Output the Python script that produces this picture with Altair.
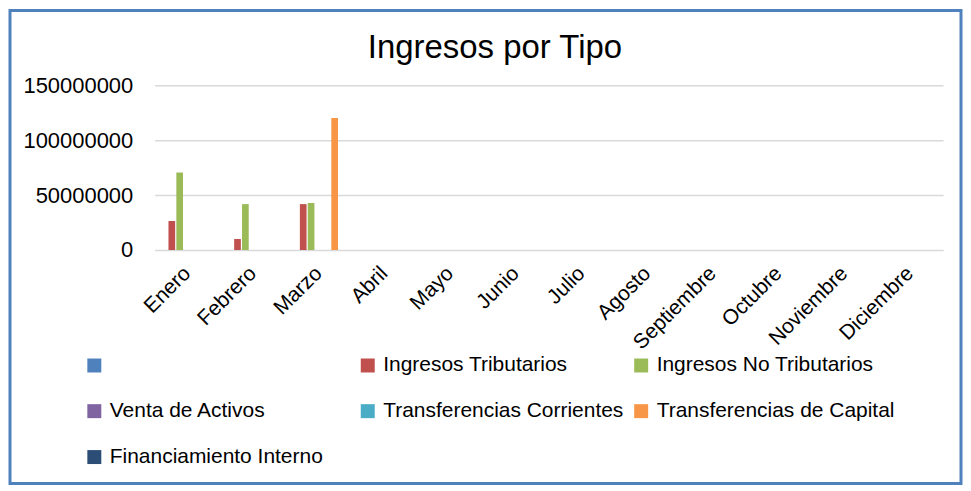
import altair as alt
import pandas as pd

months = ["Enero", "Febrero", "Marzo", "Abril", "Mayo", "Junio", "Julio",
          "Agosto", "Septiembre", "Octubre", "Noviembre", "Diciembre"]
series = [" ", "Ingresos Tributarios", "Ingresos No Tributarios", "Venta de Activos",
          "Transferencias Corrientes", "Transferencias de Capital", "Financiamiento Interno"]
colors = ["#4F81BD", "#C0504D", "#9BBB59", "#8064A2", "#4BACC6", "#F79646", "#2C4D75"]
title_text = "Ingresos por Tipo"

sin_nombre = [0] * 12
tributarios = [26400000, 10000000, 41800000, 0, 0, 0, 0, 0, 0, 0, 0, 0]
no_tributarios = [70600000, 41800000, 42700000, 0, 0, 0, 0, 0, 0, 0, 0, 0]
venta_activos = [0] * 12
transf_corrientes = [0] * 12
transf_capital = [0, 0, 120300000, 0, 0, 0, 0, 0, 0, 0, 0, 0]
financiamiento = [0] * 12

all_values = [sin_nombre, tributarios, no_tributarios, venta_activos,
              transf_corrientes, transf_capital, financiamiento]

rows = []
for s, vals in zip(series, all_values):
    for m, v in zip(months, vals):
        rows.append({"mes": m, "serie": s, "valor": v})
df = pd.DataFrame(rows)

FONT = "Liberation Sans"
W, H = 790, 165
PL, PT, PR, PB = 147, 77, 20, 236

bars = alt.Chart(df).mark_bar().encode(
    x=alt.X("mes:N", sort=months,
            scale=alt.Scale(domain=months, paddingInner=0.18, paddingOuter=0.09),
            axis=alt.Axis(title=None, labelAngle=-45, labelAlign="right", labelBaseline="middle",
                          labelFontSize=21, labelFont=FONT, labelColor="#000000",
                          ticks=False, domainColor="#D9D9D9", labelPadding=20)),
    xOffset=alt.XOffset("serie:N", scale=alt.Scale(domain=series, paddingInner=0.15)),
    y=alt.Y("valor:Q", scale=alt.Scale(domain=[0, 150000000]),
            axis=alt.Axis(title=None, values=[0, 50000000, 100000000, 150000000], format="d",
                          labelFontSize=22, labelFont=FONT, labelColor="#000000",
                          ticks=False, domain=False, gridColor="#D9D9D9", gridWidth=1.5,
                          labelPadding=22)),
    color=alt.Color("serie:N", scale=alt.Scale(domain=series, range=colors),
                    legend=alt.Legend(title=None, orient="none", legendX=-71, legendY=270,
                                      direction="horizontal",
                                      columns=3, gridAlign="all", columnPadding=7,
                                      rowPadding=24, labelFontSize=21, labelFont=FONT,
                                      labelColor="#000000", labelLimit=400, padding=0,
                                      symbolType="square", symbolSize=196,
                                      symbolStrokeWidth=0, symbolOffset=0, labelOffset=5)),
)

title = alt.Chart(pd.DataFrame({"t": [title_text]})).mark_text(
    font=FONT, fontSize=33, color="#000000", align="center", baseline="alphabetic"
).encode(text="t:N", x=alt.value(341), y=alt.value(-27))

border = alt.Chart(pd.DataFrame({"a": [0]})).mark_rect(
    filled=False, stroke="#4F81BD", strokeWidth=3
).encode(
    x=alt.value(-PL + 2), x2=alt.value(W + PR - 2),
    y=alt.value(-PT + 2), y2=alt.value(H + PB - 2),
)

chart = alt.layer(bars, title, border).properties(
    width=W, height=H,
    autosize=alt.AutoSizeParams(type="none"),
    padding={"left": PL, "top": PT, "right": PR, "bottom": PB},
).configure_view(stroke=None)

chart.save("out.html", embed_options={"renderer": "svg", "actions": False})
